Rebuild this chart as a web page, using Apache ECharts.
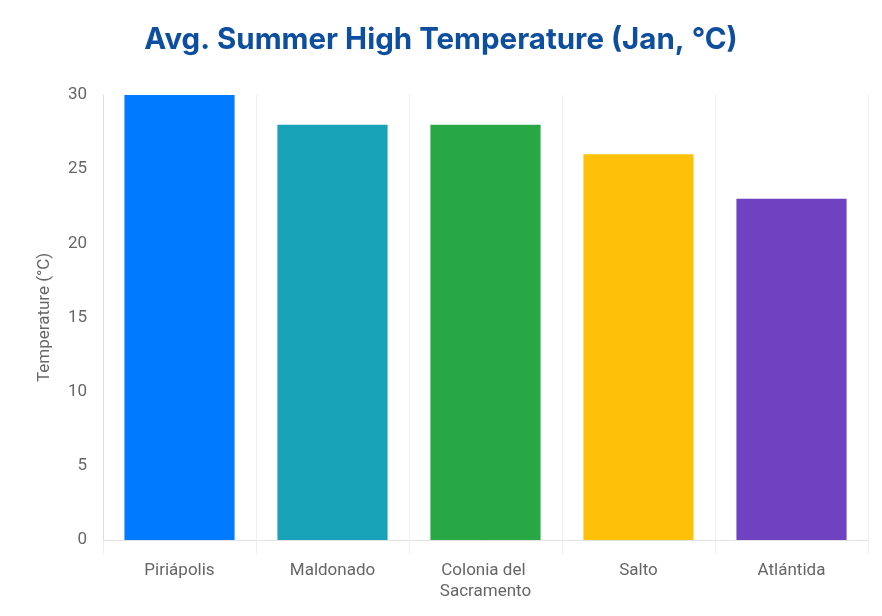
<!DOCTYPE html>
<html>
<head>
<meta charset="utf-8">
<script src="https://cdn.jsdelivr.net/npm/echarts@6/dist/echarts.min.js"></script>
<style>
  html, body { margin: 0; padding: 0; background: #fff; }
  #chart { width: 882px; height: 616px; }
</style>
</head>
<body>
<div id="chart"></div>
<script>
// data
const cities = ['Piriápolis', 'Maldonado', 'Colonia del Sacramento', 'Salto', 'Atlántida']
const highs = [30, 28, 28, 26, 23]
const barColors = ['#007bff', '#17a2b8', '#28a745', '#ffc107', '#6f42c1']
const yTicks = [0, 5, 10, 15, 20, 25, 30]

const chart = echarts.init(document.getElementById('chart'))

chart.setOption({
  animation: false,
  title: {
    text: 'Avg. Summer High Temperature (Jan, °C)',
    left: 'center',
    top: 20,
    textStyle: {
      fontFamily: 'Inter',
      fontWeight: 'bold',
      fontSize: 29.5,
      color: '#0d4f9e'
    }
  },
  grid: {
    left: 103,
    right: 14,
    top: 95,
    bottom: 76
  },
  xAxis: {
    type: 'category',
    data: cities,
    axisLine: { lineStyle: { color: '#e3e3e3' } },
    axisTick: { show: true, length: 14, interval: 0, lineStyle: { color: '#eeeeee' } },
    splitLine: { show: true, interval: 0, lineStyle: { color: '#f0f0f0' } },
    axisLabel: {
      interval: 0,
      color: '#666',
      fontSize: 17,
      fontFamily: 'Roboto',
      margin: 20,
      width: 130,
      overflow: 'break',
      lineHeight: 21
    }
  },
  yAxis: {
    type: 'value',
    min: yTicks[0],
    max: yTicks[yTicks.length - 1],
    interval: 5,
    name: 'Temperature (°C)',
    nameLocation: 'middle',
    nameGap: 50,
    nameTextStyle: { color: '#666', fontSize: 17, fontFamily: 'Roboto' },
    axisLine: { show: true, lineStyle: { color: '#dddddd' } },
    axisTick: { show: false },
    splitLine: { show: false },
    axisLabel: { color: '#666', fontSize: 17, fontFamily: 'Roboto', margin: 16 }
  },
  series: [{
    type: 'bar',
    barCategoryGap: '28%',
    data: highs.map((v, i) => ({
      value: v,
      itemStyle: { color: barColors[i] }
    }))
  }]
})
</script>
</body>
</html>
